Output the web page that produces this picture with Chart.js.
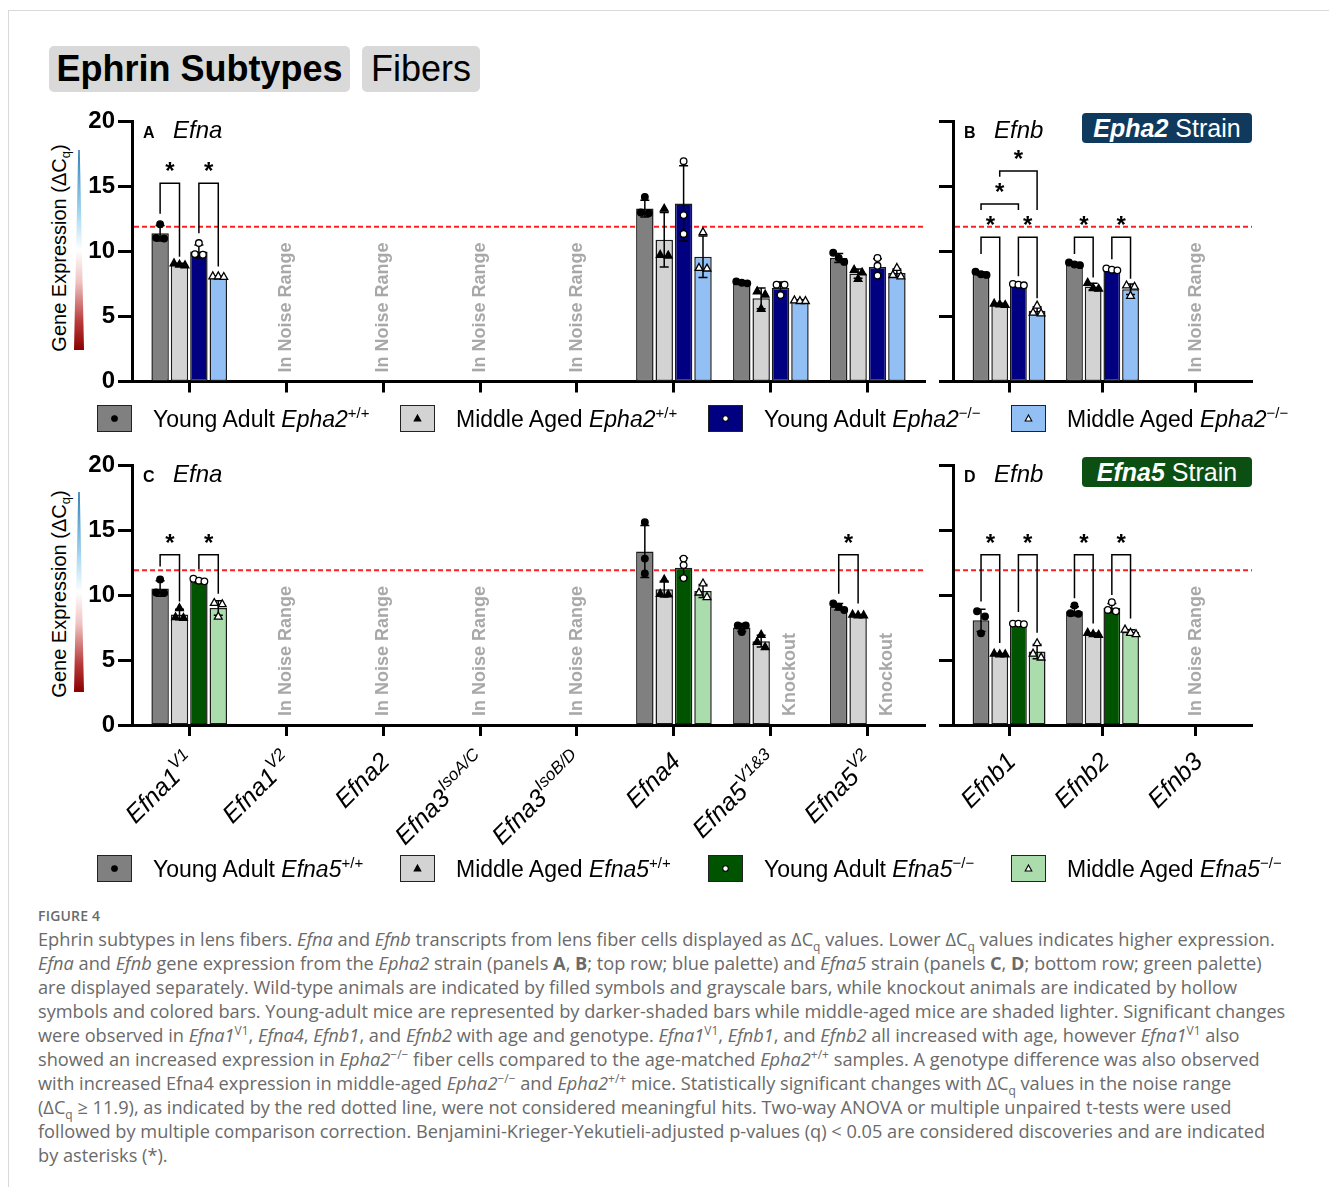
<!DOCTYPE html>
<html lang="en">
<head>
<meta charset="utf-8">
<title>Ephrin subtypes in lens fibers</title>
<script src="https://cdn.jsdelivr.net/npm/chart.js@4/dist/chart.umd.min.js"></script>
<style>
  html, body { margin: 0; padding: 0; background: #fff; }
  body { width: 1329px; height: 1187px; position: relative; overflow: hidden;
         font-family: "Liberation Sans", Arial, Helvetica, sans-serif; color: #000; }
  .frame { position: absolute; left: 8px; top: 10px; width: 1400px; height: 1300px;
           border-left: 1px solid #d9d9d9; border-top: 1px solid #d9d9d9; }
  .tag { position: absolute; top: 46px; height: 46px; line-height: 46px; background: #d9d9d9;
         border-radius: 5px; font-size: 36px; text-align: center; white-space: nowrap; }
  canvas { position: absolute; }
  .badge { position: absolute; left: 1082px; width: 170px; height: 30px; line-height: 30px;
           border-radius: 4px; color: #fff; font-size: 25px; text-align: center; white-space: nowrap; }
  .ytitle { position: absolute; font-size: 20px; white-space: nowrap;
            transform: translate(-50%, -50%) rotate(-90deg); }
  .ytitle sub { font-size: 13px; vertical-align: 0; position: relative; top: 4px; line-height: 0; }
  .wedge { position: absolute; left: 74px; width: 10px;
           background: linear-gradient(to bottom, #2f7fb8 0%, #9fd3ee 30%, #ffffff 50%, #f0c2c2 66%, #b83a3a 86%, #8b0000 100%);
           clip-path: polygon(42% 0, 58% 0, 100% 100%, 0 100%); }
  .lg-box { position: absolute; width: 33px; height: 25px; border: 1.5px solid #222; }
  .lg-box svg { position: absolute; left: 0; top: 0; }
  .lg-text { position: absolute; font-size: 23px; line-height: 28px; white-space: nowrap; }
  .lg-text sup { font-size: 15px; vertical-align: 0; position: relative; top: -9px; line-height: 0; }
  .fig-label { position: absolute; left: 38px; top: 906px; font-family: "Open Sans", sans-serif;
               font-size: 14px; font-weight: 600; color: #6a6a6a; letter-spacing: 0.2px; }
  .caption { position: absolute; left: 38px; top: 927px; font-family: "Open Sans", sans-serif;
             font-size: 18.2px; line-height: 24px; color: #6a6a6a; white-space: nowrap; }
  .caption div { height: 24px; }
  .caption sub { font-size: 12px; vertical-align: 0; position: relative; top: 5px; line-height: 0; }
  .caption sup { font-size: 12px; vertical-align: 0; position: relative; top: -7px; line-height: 0; }
</style>
</head>
<body>
<div class="frame"></div>

<div class="tag" style="left:49px;width:301px;font-weight:bold;">Ephrin Subtypes</div>
<div class="tag" style="left:362px;width:118px;">Fibers</div>

<div class="ytitle" style="left:59px;top:248px;">Gene Expression (ΔC<sub>q</sub>)</div>
<div class="wedge" style="top:150px;height:200px;"></div>
<div class="ytitle" style="left:59px;top:594px;">Gene Expression (ΔC<sub>q</sub>)</div>
<div class="wedge" style="top:492px;height:200px;"></div>

<div class="badge" style="top:113px;background:#0f3a5e;"><b><i>Epha2</i></b> Strain</div>
<div class="badge" style="top:457px;background:#0b4f12;"><b><i>Efna5</i></b> Strain</div>

<canvas id="panelA"></canvas>
<canvas id="panelB"></canvas>
<canvas id="panelC"></canvas>
<canvas id="panelD"></canvas>

<div id="legends"></div>

<div class="fig-label">FIGURE 4</div>
<div class="caption">
  <div>Ephrin subtypes in lens fibers. <i>Efna</i> and <i>Efnb</i> transcripts from lens fiber cells displayed as ΔC<sub>q</sub> values. Lower ΔC<sub>q</sub> values indicates higher expression.</div>
  <div><i>Efna</i> and <i>Efnb</i> gene expression from the <i>Epha2</i> strain (panels <b>A</b>, <b>B</b>; top row; blue palette) and <i>Efna5</i> strain (panels <b>C</b>, <b>D</b>; bottom row; green palette)</div>
  <div>are displayed separately. Wild-type animals are indicated by filled symbols and grayscale bars, while knockout animals are indicated by hollow</div>
  <div>symbols and colored bars. Young-adult mice are represented by darker-shaded bars while middle-aged mice are shaded lighter. Significant changes</div>
  <div>were observed in <i>Efna1</i><sup>V1</sup>, <i>Efna4</i>, <i>Efnb1</i>, and <i>Efnb2</i> with age and genotype. <i>Efna1</i><sup>V1</sup>, <i>Efnb1</i>, and <i>Efnb2</i> all increased with age, however <i>Efna1</i><sup>V1</sup> also</div>
  <div>showed an increased expression in <i>Epha2</i><sup>−/−</sup> fiber cells compared to the age-matched <i>Epha2</i><sup>+/+</sup> samples. A genotype difference was also observed</div>
  <div>with increased Efna4 expression in middle-aged <i>Epha2</i><sup>−/−</sup> and <i>Epha2</i><sup>+/+</sup> mice. Statistically significant changes with ΔC<sub>q</sub> values in the noise range</div>
  <div>(ΔC<sub>q</sub> ≥ 11.9), as indicated by the red dotted line, were not considered meaningful hits. Two-way ANOVA or multiple unpaired t-tests were used</div>
  <div>followed by multiple comparison correction. Benjamini-Krieger-Yekutieli-adjusted p-values (q) &lt; 0.05 are considered discoveries and are indicated</div>
  <div>by asterisks (*).</div>
</div>

<script>
// ---------- categories & ticks ----------
const efnaGenes = ['Efna1^V1', 'Efna1^V2', 'Efna2', 'Efna3^IsoA/C', 'Efna3^IsoB/D', 'Efna4', 'Efna5^V1&3', 'Efna5^V2'];
const efnbGenes = ['Efnb1', 'Efnb2', 'Efnb3'];
const yTicks = [0, 5, 10, 15, 20];
const noiseLevel = 11.9; // ΔCq threshold, red dotted line

const NOISE = 'In Noise Range';
const KO = 'Knockout';

// ---------- Epha2 strain, Efna (panel A): mean ΔCq, SD, replicates ----------
const aYoungWT   = [11.4, null, null, null, null, 13.3, 7.6, 9.5];
const aMiddleWT  = [9.0,  null, null, null, null, 10.9, 6.4, 8.3];
const aYoungKO   = [10.0, null, null, null, null, 13.7, 7.2, 8.8];
const aMiddleKO  = [8.0,  null, null, null, null, 9.6, 6.2, 8.35];
const aYoungWTsd  = [0.6,  null, null, null, null, 0.65, 0.1, 0.35];
const aMiddleWTsd = [0.1,  null, null, null, null, 2.1, 0.8, 0.35];
const aYoungKOsd  = [0.5,  null, null, null, null, 2.9, 0.45, 0.65];
const aMiddleKOsd = [0.1,  null, null, null, null, 1.6, 0.08, 0.3];
const aYoungWTpts  = [[12.1, 11.0, 11.05], null, null, null, null, [14.2, 13.0, 12.95], [7.55, 7.7, 7.6], [9.9, 9.2, 9.5]];
const aMiddleWTpts = [[9.1, 8.95, 9.0], null, null, null, null, [13.3, 9.7, 9.75], [6.95, 5.6, 6.7], [8.6, 7.9, 8.4]];
const aYoungKOpts  = [[10.65, 9.8, 9.75], null, null, null, null, [16.95, 12.8, 11.35], [7.45, 7.45, 6.65], [9.5, 8.9, 8.15]];
const aMiddleKOpts = [[8.1, 8.05, 8.1], null, null, null, null, [11.5, 8.7, 8.75], [6.2, 6.25, 6.2], [8.75, 8.2, 8.1]];
const aNotes = ['', NOISE, NOISE, NOISE, NOISE, '', '', ''];
// [category, bar, bar, bracket level, left leg end, right leg end]
const aBrackets = [[0, 0, 1, 15.25, 12.9, 9.6], [0, 2, 3, 15.25, 11.4, 8.85]];

// ---------- Epha2 strain, Efnb (panel B) ----------
const bYoungWT   = [8.3, 9.05, null];
const bMiddleWT  = [5.95, 7.3, null];
const bYoungKO   = [7.45, 8.6, null];
const bMiddleKO  = [5.45, 7.1, null];
const bYoungWTsd  = [0.12, 0.1, null];
const bMiddleWTsd = [0.06, 0.25, null];
const bYoungKOsd  = [0.05, 0.08, null];
const bMiddleKOsd = [0.3, 0.4, null];
const bYoungWTpts  = [[8.45, 8.25, 8.2], [9.15, 9.0, 8.95], null];
const bMiddleWTpts = [[6.0, 5.9, 5.95], [7.6, 7.15, 7.2], null];
const bYoungKOpts  = [[7.5, 7.4, 7.45], [8.7, 8.55, 8.6], null];
const bMiddleKOpts = [[5.85, 5.25, 5.3], [7.3, 7.4, 6.6], null];
const bNotes = ['', '', NOISE];
const bBrackets = [[0, 0, 1, 11.1, 9.8, 6.3], [0, 2, 3, 11.1, 8.1, 6.4],
                   [0, 0, 2, 13.65, 13.2, 13.2], [0, 1, 3, 16.2, 15.75, 13.2],
                   [1, 0, 1, 11.1, 9.8, 8.0], [1, 2, 3, 11.1, 9.4, 7.9]];

// ---------- Efna5 strain, Efna (panel C) ----------
const cYoungWT   = [10.5, null, null, null, null, 13.35, 7.5, 9.1];
const cMiddleWT  = [8.5,  null, null, null, null, 10.45, 6.45, 8.45];
const cYoungKO   = [11.05, null, null, null, null, 12.1, null, null];
const cMiddleKO  = [9.0,  null, null, null, null, 10.3, null, null];
const cYoungWTsd  = [0.6,  null, null, null, null, 2.0, 0.3, 0.25];
const cMiddleWTsd = [0.4,  null, null, null, null, 0.6, 0.45, 0.05];
const cYoungKOsd  = [0.1,  null, null, null, null, 0.75, null, null];
const cMiddleKOsd = [0.55, null, null, null, null, 0.5, null, null];
const cYoungWTpts  = [[11.2, 10.2, 10.15], null, null, null, null, [15.6, 12.8, 11.65], [7.65, 7.65, 7.15], [9.35, 9.1, 8.85]];
const cMiddleWTpts = [[9.0, 8.3, 8.25], null, null, null, null, [11.2, 10.1, 10.05], [6.95, 6.0, 6.4], [8.5, 8.45, 8.45]];
const cYoungKOpts  = [[11.1, 11.25, 11.05], null, null, null, null, [12.8, 12.3, 11.3], null, null];
const cMiddleKOpts = [[9.4, 9.3, 8.35], null, null, null, null, [10.9, 10.2, 9.85], null, null];
const cNotes = ['', NOISE, NOISE, NOISE, NOISE, '', KO, KO];
const cBrackets = [[0, 0, 1, 13.1, 12.2, 9.5], [0, 2, 3, 13.1, 12.0, 10.1], [7, 0, 1, 13.1, 10.1, 9.35]];

// ---------- Efna5 strain, Efnb (panel D) ----------
const dYoungWT   = [8.05, 8.75, null];
const dMiddleWT  = [5.45, 7.0, null];
const dYoungKO   = [7.75, 9.0, null];
const dMiddleKO  = [5.65, 7.15, null];
const dYoungWTsd  = [0.85, 0.35, null];
const dMiddleWTsd = [0.05, 0.08, null];
const dYoungKOsd  = [0.05, 0.35, null];
const dMiddleKOsd = [0.55, 0.18, null];
const dYoungWTpts  = [[8.75, 8.35, 7.05], [9.2, 8.55, 8.6], null];
const dMiddleWTpts = [[5.5, 5.45, 5.45], [7.1, 7.0, 6.95], null];
const dYoungKOpts  = [[7.8, 7.8, 7.75], [9.45, 8.85, 8.75], null];
const dMiddleKOpts = [[6.3, 5.5, 5.2], [7.35, 7.0, 7.1], null];
const dNotes = ['', '', NOISE];
const dBrackets = [[0, 0, 1, 13.1, 9.5, 6.3], [0, 2, 3, 13.1, 8.7, 7.1],
                   [1, 0, 1, 13.1, 9.75, 7.8], [1, 2, 3, 13.1, 10.0, 8.2]];

// ---------- palettes & legend text ----------
const blueStrain = 'Epha2';
const greenStrain = 'Efna5';
const ageGroups = ['Young Adult', 'Middle Aged', 'Young Adult', 'Middle Aged'];
const genotypes = ['+/+', '+/+', '−/−', '−/−'];
const bluePalette = ['#808080', '#d3d3d3', '#000080', '#92bff4'];
const greenPalette = ['#808080', '#d3d3d3', '#005400', '#abdcab'];
const markerShapes = ['circle', 'triangle', 'circle', 'triangle'];
const markerFilled = [true, true, false, false];

const FONT = '"Liberation Sans", Arial, Helvetica, sans-serif';

function drawMarker(ctx, shape, filled, x, y) {
  ctx.beginPath();
  if (shape === 'circle') {
    ctx.arc(x, y, 3.3, 0, Math.PI * 2);
  } else {
    const r = 4.3;
    ctx.moveTo(x, y - r);
    ctx.lineTo(x + r * 0.9, y + r * 0.6);
    ctx.lineTo(x - r * 0.9, y + r * 0.6);
    ctx.closePath();
  }
  ctx.fillStyle = filled ? '#000' : '#fff';
  ctx.fill();
  ctx.lineWidth = 1.3;
  ctx.strokeStyle = '#000';
  ctx.stroke();
}

// spread replicates sideways when they would overlap
function spreadPoints(vals, yScale, cx) {
  const pts = vals.map(v => ({ v, py: yScale.getPixelForValue(v) })).sort((a, b) => a.py - b.py);
  const groups = [];
  pts.forEach(p => {
    const g = groups[groups.length - 1];
    if (g && p.py - g[g.length - 1].py < 6) g.push(p); else groups.push([p]);
  });
  groups.forEach(g => {
    const step = g.length === 2 ? 8 : 5.5;
    g.forEach((p, j) => { p.px = cx + (j - (g.length - 1) / 2) * step; });
  });
  return pts;
}

function decorPlugin(spec) {
  return {
    id: 'panelDecor',
    beforeDatasetsDraw(chart) {
      const { ctx, chartArea: a, scales: { y } } = chart;
      const yy = y.getPixelForValue(noiseLevel);
      ctx.save();
      ctx.strokeStyle = '#ff1f1f';
      ctx.lineWidth = 2;
      ctx.setLineDash([5, 3]);
      ctx.beginPath();
      ctx.moveTo(a.left + 2, yy);
      ctx.lineTo(a.right, yy);
      ctx.stroke();
      ctx.restore();
    },
    afterDatasetsDraw(chart) {
      const { ctx, chartArea: a, scales: { x, y } } = chart;
      ctx.save();
      // error bars and replicate symbols
      spec.series.forEach((s, di) => {
        const meta = chart.getDatasetMeta(di);
        s.values.forEach((v, i) => {
          if (v == null) return;
          const bx = meta.data[i].x;
          const sd = s.sd[i];
          if (sd) {
            const yt = y.getPixelForValue(v + sd), yb = y.getPixelForValue(v - sd);
            ctx.strokeStyle = '#000';
            ctx.lineWidth = 1.5;
            ctx.beginPath();
            ctx.moveTo(bx, yt); ctx.lineTo(bx, yb);
            ctx.moveTo(bx - 4.5, yt); ctx.lineTo(bx + 4.5, yt);
            ctx.moveTo(bx - 4.5, yb); ctx.lineTo(bx + 4.5, yb);
            ctx.stroke();
          }
          if (s.pts[i]) {
            spreadPoints(s.pts[i], y, bx).forEach(p => drawMarker(ctx, s.shape, s.filled, p.px, p.py));
          }
        });
      });
      // rotated notes for missing data
      spec.notes.forEach((note, i) => {
        if (!note) return;
        let nx = x.getPixelForValue(i);
        if (note === KO) {
          const m0 = chart.getDatasetMeta(0).data[i], m1 = chart.getDatasetMeta(1).data[i];
          nx = m1.x + (m1.x - m0.x) * 1.5;
        }
        ctx.save();
        ctx.translate(nx, a.bottom - 9);
        ctx.rotate(-Math.PI / 2);
        ctx.font = 'bold 18px ' + FONT;
        ctx.fillStyle = '#a8a8a8';
        ctx.textAlign = 'left';
        ctx.textBaseline = 'middle';
        ctx.fillText(note, 0, 0);
        ctx.restore();
      });
      // significance brackets
      spec.brackets.forEach(([i, b1, b2, top, leg1, leg2]) => {
        const x1 = chart.getDatasetMeta(b1).data[i].x;
        const x2 = chart.getDatasetMeta(b2).data[i].x;
        const yt = y.getPixelForValue(top);
        ctx.strokeStyle = '#000';
        ctx.lineWidth = 1.5;
        ctx.beginPath();
        ctx.moveTo(x1, y.getPixelForValue(leg1));
        ctx.lineTo(x1, yt);
        ctx.lineTo(x2, yt);
        ctx.lineTo(x2, y.getPixelForValue(leg2));
        ctx.stroke();
        ctx.font = 'bold 24px ' + FONT;
        ctx.fillStyle = '#000';
        ctx.textAlign = 'center';
        ctx.textBaseline = 'alphabetic';
        ctx.fillText('*', (x1 + x2) / 2, y.getPixelForValue(top + 1.4) + 14);
      });
      // panel heading
      ctx.fillStyle = '#000';
      ctx.textAlign = 'left';
      ctx.textBaseline = 'alphabetic';
      ctx.font = 'bold 16px ' + FONT;
      ctx.fillText(spec.letter, a.left + 11, a.top + 16.5);
      ctx.font = 'italic 24px ' + FONT;
      ctx.fillText(spec.family, a.left + 41, a.top + 16.5);
      ctx.restore();
    },
    afterDraw(chart) {
      if (!spec.geneLabels) return;
      const { ctx, chartArea: a, scales: { x } } = chart;
      spec.genes.forEach((g, i) => {
        const [main, sup] = g.split('^');
        const tx = x.getPixelForValue(i);
        ctx.save();
        ctx.translate(tx + 8, a.bottom + 38);
        ctx.rotate(-Math.PI / 4);
        ctx.fillStyle = '#000';
        ctx.textAlign = 'left';
        ctx.textBaseline = 'alphabetic';
        ctx.font = 'italic 25px ' + FONT;
        const wm = ctx.measureText(main).width;
        let ws = 0;
        if (sup) { ctx.font = 'italic 17px ' + FONT; ws = ctx.measureText(sup).width + 1; }
        ctx.font = 'italic 25px ' + FONT;
        ctx.fillText(main, -(wm + ws), 0);
        if (sup) { ctx.font = 'italic 17px ' + FONT; ctx.fillText(sup, -ws + 1, -11); }
        ctx.restore();
      });
    }
  };
}

function buildPanel(spec) {
  const cv = document.getElementById(spec.id);
  cv.width = spec.box.width; cv.height = spec.box.height;
  cv.style.left = spec.box.left + 'px'; cv.style.top = spec.box.top + 'px';
  cv.style.width = spec.box.width + 'px'; cv.style.height = spec.box.height + 'px';
  const n = spec.genes.length;
  const datasets = spec.series.map(s => ({
    data: s.values.map((v, i) => ({ x: i, y: v })),
    backgroundColor: s.color,
    borderColor: '#1a1a1a',
    borderWidth: 1.5,
    borderSkipped: false,
    categoryPercentage: 0.8,
    barPercentage: 0.9
  }));
  const xAxisHeight = spec.box.height - spec.padTop - spec.plotHeight;
  new Chart(cv, {
    type: 'bar',
    data: { datasets },
    options: {
      responsive: false,
      animation: false,
      devicePixelRatio: 1,
      layout: { padding: { top: spec.padTop, right: spec.padRight, left: 0, bottom: 0 } },
      plugins: { legend: { display: false }, tooltip: { enabled: false } },
      scales: {
        x: {
          type: 'linear', bounds: 'data', offset: false,
          min: -0.5 - spec.edge, max: n - 0.5 + spec.edge,
          afterBuildTicks: s => { s.ticks = spec.genes.map((g, i) => ({ value: i })); },
          afterFit: s => { s.height = xAxisHeight; },
          ticks: { display: false },
          grid: { offset: false, drawOnChartArea: false, drawTicks: true, tickLength: 11, tickWidth: 3, tickColor: '#000' },
          border: { display: true, width: 3, color: '#000' }
        },
        y: {
          type: 'linear', bounds: 'data', min: 0, max: 20,
          afterBuildTicks: s => { s.ticks = yTicks.map(v => ({ value: v })); },
          afterFit: s => { s.width = spec.yAxisWidth; },
          ticks: {
            display: true, padding: 3, color: '#000',
            font: { family: FONT, size: 24, weight: 'bold' },
            callback: v => (spec.yLabels ? String(v) : '')
          },
          grid: { drawOnChartArea: false, drawTicks: true, tickLength: 14, tickWidth: 3, tickColor: '#000' },
          border: { display: true, width: 3, color: '#000' }
        }
      }
    },
    plugins: [decorPlugin(spec)]
  });
}

function seriesOf(palette, values, sds, pts) {
  return values.map((v, k) => ({
    values: v, sd: sds[k], pts: pts[k], color: palette[k],
    shape: markerShapes[k], filled: markerFilled[k]
  }));
}

buildPanel({
  id: 'panelA', genes: efnaGenes, letter: 'A', family: 'Efna', yLabels: true, geneLabels: false,
  series: seriesOf(bluePalette, [aYoungWT, aMiddleWT, aYoungKO, aMiddleKO],
    [aYoungWTsd, aMiddleWTsd, aYoungKOsd, aMiddleKOsd], [aYoungWTpts, aMiddleWTpts, aYoungKOpts, aMiddleKOpts]),
  notes: aNotes, brackets: aBrackets,
  box: { left: 0, top: 100, width: 940, height: 310 }, yAxisWidth: 132, padTop: 21.5, padRight: 15, plotHeight: 260, edge: 0.09
});
buildPanel({
  id: 'panelB', genes: efnbGenes, letter: 'B', family: 'Efnb', yLabels: false, geneLabels: false,
  series: seriesOf(bluePalette, [bYoungWT, bMiddleWT, bYoungKO, bMiddleKO],
    [bYoungWTsd, bMiddleWTsd, bYoungKOsd, bMiddleKOsd], [bYoungWTpts, bMiddleWTpts, bYoungKOpts, bMiddleKOpts]),
  notes: bNotes, brackets: bBrackets,
  box: { left: 930, top: 100, width: 340, height: 310 }, yAxisWidth: 23, padTop: 21.5, padRight: 18, plotHeight: 260, edge: 0.1
});
buildPanel({
  id: 'panelC', genes: efnaGenes, letter: 'C', family: 'Efna', yLabels: true, geneLabels: true,
  series: seriesOf(greenPalette, [cYoungWT, cMiddleWT, cYoungKO, cMiddleKO],
    [cYoungWTsd, cMiddleWTsd, cYoungKOsd, cMiddleKOsd], [cYoungWTpts, cMiddleWTpts, cYoungKOpts, cMiddleKOpts]),
  notes: cNotes, brackets: cBrackets,
  box: { left: 0, top: 440, width: 940, height: 420 }, yAxisWidth: 132, padTop: 25, padRight: 15, plotHeight: 260, edge: 0.09
});
buildPanel({
  id: 'panelD', genes: efnbGenes, letter: 'D', family: 'Efnb', yLabels: false, geneLabels: true,
  series: seriesOf(greenPalette, [dYoungWT, dMiddleWT, dYoungKO, dMiddleKO],
    [dYoungWTsd, dMiddleWTsd, dYoungKOsd, dMiddleKOsd], [dYoungWTpts, dMiddleWTpts, dYoungKOpts, dMiddleKOpts]),
  notes: dNotes, brackets: dBrackets,
  box: { left: 930, top: 440, width: 340, height: 420 }, yAxisWidth: 23, padTop: 25, padRight: 18, plotHeight: 260, edge: 0.1
});

// ---------- legends (HTML, for italic gene names and superscripts) ----------
function markerSvg(shape, filled) {
  const fill = filled ? '#000' : '#fff';
  const body = shape === 'circle'
    ? `<circle cx="16.5" cy="12.5" r="2.8" fill="${fill}" stroke="#000" stroke-width="1.1"/>`
    : `<polygon points="16.5,9 19.8,15 13.2,15" fill="${fill}" stroke="#000" stroke-width="1.1"/>`;
  return `<svg width="33" height="25" viewBox="0 0 33 25">${body}</svg>`;
}
function legendRow(top, strain, palette) {
  const boxLeft = [97, 400, 708, 1011];
  let html = '';
  ageGroups.forEach((g, k) => {
    html += `<div class="lg-box" style="left:${boxLeft[k]}px;top:${top}px;background:${palette[k]}">${markerSvg(markerShapes[k], markerFilled[k])}</div>`;
    html += `<div class="lg-text" style="left:${boxLeft[k] + 56}px;top:${top}px">${g} <i>${strain}</i><sup>${genotypes[k]}</sup></div>`;
  });
  return html;
}
document.getElementById('legends').innerHTML =
  legendRow(405, blueStrain, bluePalette) + legendRow(855, greenStrain, greenPalette);
</script>
</body>
</html>
